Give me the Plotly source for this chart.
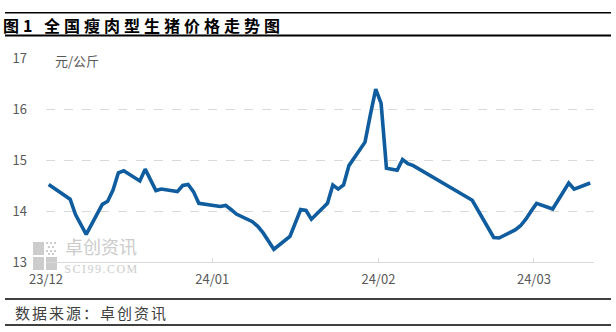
import plotly.graph_objects as go

dates = [
    "2023-12-01", "2023-12-04", "2023-12-05", "2023-12-06", "2023-12-07", "2023-12-08",
    "2023-12-11", "2023-12-12", "2023-12-13", "2023-12-14", "2023-12-15",
    "2023-12-18", "2023-12-19", "2023-12-20", "2023-12-21", "2023-12-22",
    "2023-12-25", "2023-12-26", "2023-12-27", "2023-12-28", "2023-12-29",
    "2024-01-02", "2024-01-03", "2024-01-04", "2024-01-05",
    "2024-01-08", "2024-01-09", "2024-01-10", "2024-01-11", "2024-01-12",
    "2024-01-15", "2024-01-16", "2024-01-17", "2024-01-18", "2024-01-19",
    "2024-01-22", "2024-01-23", "2024-01-24", "2024-01-25", "2024-01-26",
    "2024-01-29", "2024-01-30", "2024-01-31", "2024-02-01", "2024-02-02",
    "2024-02-04", "2024-02-05", "2024-02-06", "2024-02-07",
    "2024-02-18", "2024-02-19", "2024-02-20", "2024-02-21", "2024-02-22", "2024-02-23",
    "2024-02-26", "2024-02-27", "2024-02-28", "2024-02-29", "2024-03-01",
    "2024-03-04", "2024-03-05", "2024-03-06", "2024-03-07", "2024-03-08",
    "2024-03-11",
]
prices = [
    14.52, 14.30, 14.23, 13.93, 13.74, 13.54,
    14.13, 14.19, 14.41, 14.75, 14.79,
    14.59, 14.82, 14.61, 14.40, 14.43,
    14.38, 14.50, 14.52, 14.38, 14.15,
    14.09, 14.11, 14.03, 13.94,
    13.79, 13.70, 13.57, 13.42, 13.25,
    13.50, 13.76, 14.03, 14.01, 13.84,
    14.15, 14.51, 14.43, 14.51, 14.89,
    15.35, 15.89, 16.39, 16.11, 14.84,
    14.80, 15.01, 14.93, 14.89,
    14.21, 14.03, 13.85, 13.66, 13.48, 13.47,
    13.63, 13.71, 13.84, 14.00, 14.15,
    14.04, 14.21, 14.38, 14.55, 14.43,
    14.55,
]
tick_positions = ["2023-11-30 12:00", "2023-12-31 12:00", "2024-01-31 12:00", "2024-02-29 12:00"]
tick_labels = ["23/12", "24/01", "24/02", "24/03"]
y_ticks = [13, 14, 15, 16, 17]

title_text = "图1 全国瘦肉型生猪价格走势图"
unit_text = "元/公斤"
source_text = "数据来源：卓创资讯"

W, H = 616, 332
L, R, T, B = 46, 594, 58, 262


def px(x):
    return (x - L) / (R - L)


def py(y):
    return (B - y) / (B - T)


fig = go.Figure()
fig.add_trace(go.Scatter(
    x=dates, y=prices, mode="lines",
    line=dict(color="#0f5c9e", width=3.6),
    hoverinfo="skip", showlegend=False,
))

font_cjk = "Noto Sans CJK SC, Noto Sans, sans-serif"
gray_txt = "#595959"

fig.update_layout(
    width=W, height=H,
    margin=dict(l=L, r=W - R, t=T, b=H - B),
    paper_bgcolor="white", plot_bgcolor="white",
    font=dict(family=font_cjk, size=13, color=gray_txt),
    xaxis=dict(
        type="date",
        range=["2023-11-30 12:00", "2024-03-11 17:00"],
        tickmode="array", tickvals=tick_positions, ticktext=tick_labels,
        ticks="inside", ticklen=4, tickcolor="#d9d9d9", tickwidth=1,
        showline=True, linecolor="#d9d9d9", linewidth=1,
        showgrid=False, zeroline=False,
        tickfont=dict(family=font_cjk, size=13, color=gray_txt),
        ticklabelstandoff=5,
    ),
    yaxis=dict(
        range=[13, 17], tickvals=y_ticks,
        showgrid=True, gridcolor="#d9d9d9", griddash="dash", gridwidth=1,
        showline=False, zeroline=False, ticks="",
        tickfont=dict(family=font_cjk, size=13, color=gray_txt),
        ticklabelstandoff=18,
    ),
)

shapes = []
# horizontal rules
for y0, w in [(12.7, 1.5), (35.5, 2), (299, 1.5), (325, 1.5)]:
    shapes.append(dict(type="line", xref="paper", yref="paper",
                       x0=px(5), x1=px(611), y0=py(y0), y1=py(y0),
                       line=dict(color="black", width=w)))
# watermark logo
wm = "#cccccc"
for (x0, y0, x1, y1) in [(33, 242, 44, 255), (33, 257, 44, 270), (46, 257, 57, 270)]:
    shapes.append(dict(type="rect", xref="paper", yref="paper",
                       x0=px(x0), x1=px(x1), y0=py(y1), y1=py(y0),
                       fillcolor=wm, line=dict(width=0), layer="below"))
for (cx, cy) in [(47, 243), (51, 243), (55, 243), (49, 247), (53, 247), (47, 251), (51, 251), (55, 251), (49, 254), (53, 254)]:
    shapes.append(dict(type="rect", xref="paper", yref="paper",
                       x0=px(cx - 1), x1=px(cx + 1), y0=py(cy + 1), y1=py(cy - 1),
                       fillcolor=wm, line=dict(width=0), layer="below"))
fig.update_layout(shapes=shapes)

annotations = [
    dict(text=title_text, x=px(143), y=py(25), xref="paper", yref="paper",
         xanchor="center", yanchor="middle", showarrow=False,
         font=dict(family=font_cjk, size=16, color="black", weight="bold")),
    dict(text=unit_text, x=px(53), y=py(61), xref="paper", yref="paper",
         xanchor="left", yanchor="middle", showarrow=False,
         font=dict(family=font_cjk, size=13, color=gray_txt)),
    dict(text=source_text, x=px(91), y=py(312), xref="paper", yref="paper",
         xanchor="center", yanchor="middle", showarrow=False,
         font=dict(family=font_cjk, size=15, color="#404040")),
    dict(text="卓创资讯", x=px(101), y=py(260), xref="paper", yref="paper",
         xanchor="center", yanchor="bottom", showarrow=False, borderpad=0,
         font=dict(family=font_cjk, size=18, color=wm)),
    dict(text="SCI99.COM", x=px(101), y=py(261), xref="paper", yref="paper",
         xanchor="center", yanchor="top", showarrow=False, borderpad=0,
         font=dict(family="Liberation Serif, serif", size=12, color=wm)),
]
fig.update_layout(annotations=annotations)

post = """
var gd = document.getElementById('{plot_id}');
gd.querySelectorAll('text.annotation-text').forEach(function(t){
  var s = t.textContent;
  if (s.indexOf('全国') >= 0) { t.style.letterSpacing = '4px'; }
  if (s.indexOf('数据来源') >= 0) { t.style.letterSpacing = '2px'; }
  if (s.indexOf('SCI99') >= 0) { t.style.letterSpacing = '1.5px'; }
});
"""

fig.write_html("out.html", post_script=post)
